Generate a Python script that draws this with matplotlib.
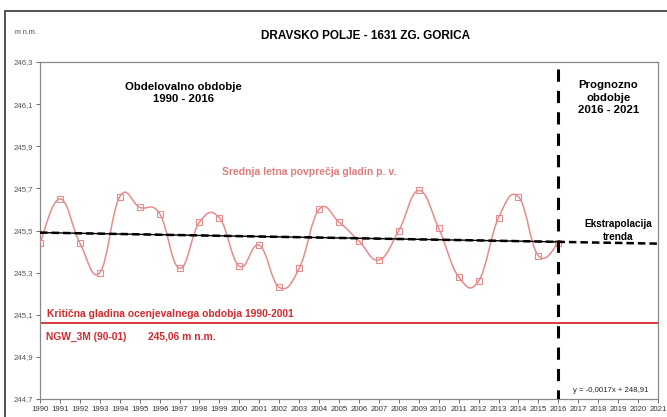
import numpy as np
import matplotlib
matplotlib.use("Agg")
import matplotlib.pyplot as plt
from matplotlib.path import Path
from matplotlib.patches import PathPatch, Rectangle

plt.rcParams["font.family"] = ["Liberation Sans", "DejaVu Sans"]

years = np.arange(1990, 2017)
levels = [245.44, 245.65, 245.44, 245.30, 245.66, 245.61, 245.58, 245.32, 245.54,
          245.56, 245.33, 245.43, 245.23, 245.32, 245.60, 245.54, 245.45, 245.36,
          245.50, 245.69, 245.51, 245.28, 245.26, 245.56, 245.66, 245.38, 245.44]
critical_level = 245.06
forecast_start = 2016
x_end = 2021
y_ticks = [244.7, 244.9, 245.1, 245.3, 245.5, 245.7, 245.9, 246.1, 246.3]

curve_color = "#E58C8C"
red = "#D42A2F"

fig = plt.figure(figsize=(6.67, 4.17), dpi=100)
ax = fig.add_axes([40 / 667, 1 - 399 / 417, 618 / 667, 337 / 417])

# smooth line (Excel style) through the yearly means, drawn as bezier segments
pts = np.column_stack([years, levels])
ext = np.vstack([pts[0], pts, pts[-1]])
verts = [pts[0]]
codes = [Path.MOVETO]
for i in range(len(pts) - 1):
    p0, p1, p2, p3 = ext[i], ext[i + 1], ext[i + 2], ext[i + 3]
    verts += [p1 + (p2 - p0) / 4.8, p2 - (p3 - p1) / 4.8, p2]
    codes += [Path.CURVE4] * 3
ax.add_patch(PathPatch(Path(verts, codes), facecolor="none", edgecolor=curve_color, lw=1.1, zorder=3))
ax.plot(years, levels, ls="none", marker="s", ms=5, mfc="none", mec=curve_color, mew=0.8, zorder=4)

# linear trend and its extrapolation
k, n = np.polyfit(years, levels, 1)
ax.plot([years[0], forecast_start], [k * years[0] + n, k * forecast_start + n], color="black", lw=1.0, zorder=5)
ax.plot([years[0], x_end], [k * years[0] + n, k * x_end + n], color="black", lw=1.8,
        ls=(0, (3, 1.6)), zorder=5)

ax.axhline(critical_level, color=red, lw=1.3, zorder=2)
ax.axvline(forecast_start, color="black", lw=2.2, ls=(1, (4, 3)), zorder=6)

ax.set_xlim(1990, x_end)
ax.set_ylim(244.7, 246.3)
ax.set_xticks(range(1990, x_end + 1))
ax.set_xticklabels([str(y) for y in range(1990, x_end + 1)], fontsize=5.6, color="#333333")
ax.set_yticks(y_ticks)
ax.set_yticklabels([f"{v:.1f}".replace(".", ",") for v in y_ticks], fontsize=5.6, color="#555555")
ax.tick_params(length=3, width=0.6, color="#555555", pad=2)
for s in ax.spines.values():
    s.set_color("#888888")
    s.set_linewidth(0.9)

fig.text(15 / 667, 1 - 33 / 417, "m n.m.", fontsize=5, color="#444444", va="center")
fig.text(366 / 667, 1 - 36 / 417, "DRAVSKO POLJE - 1631 ZG. GORICA", fontsize=8.5,
         fontweight="bold", ha="center", va="center")

ax.text(1997.2, 246.152, "Obdelovalno obdobje\n1990 - 2016", fontsize=8.2, fontweight="bold",
        ha="center", va="center", linespacing=1.25)
ax.text(2018.5, 246.13, "Prognozno\nobdobje\n2016 - 2021", fontsize=8.2, fontweight="bold",
        ha="center", va="center", linespacing=1.3)
ax.text(2003.5, 245.78, "Srednja letna povprečja gladin p. v.", fontsize=7.5, fontweight="bold",
        color="#E07C7C", ha="center", va="center")
ax.text(2019.0, 245.50, "Ekstrapolacija\ntrenda", fontsize=7.2, fontweight="bold",
        ha="center", va="center", linespacing=1.3)
ax.text(1990.35, 245.105, "Kritična gladina ocenjevalnega obdobja 1990-2001", fontsize=7.4,
        fontweight="bold", color=red, va="center")
ax.text(1990.3, 244.995, "NGW_3M (90-01)", fontsize=7.4, fontweight="bold", color=red, va="center")
ax.text(1995.4, 244.995, "245,06 m n.m.", fontsize=7.4, fontweight="bold", color=red, va="center")
ax.text(2020.5, 244.74, "y = -0,0017x + 248,91", fontsize=5.6, ha="right", va="center", color="#222222")

fig.add_artist(Rectangle((5 / 667, -0.05), 1.1, 1 - 11 / 417 + 0.05, transform=fig.transFigure,
                         fill=False, edgecolor="#333333", lw=1.2, clip_on=False))

fig.savefig("out.png", dpi=100)
